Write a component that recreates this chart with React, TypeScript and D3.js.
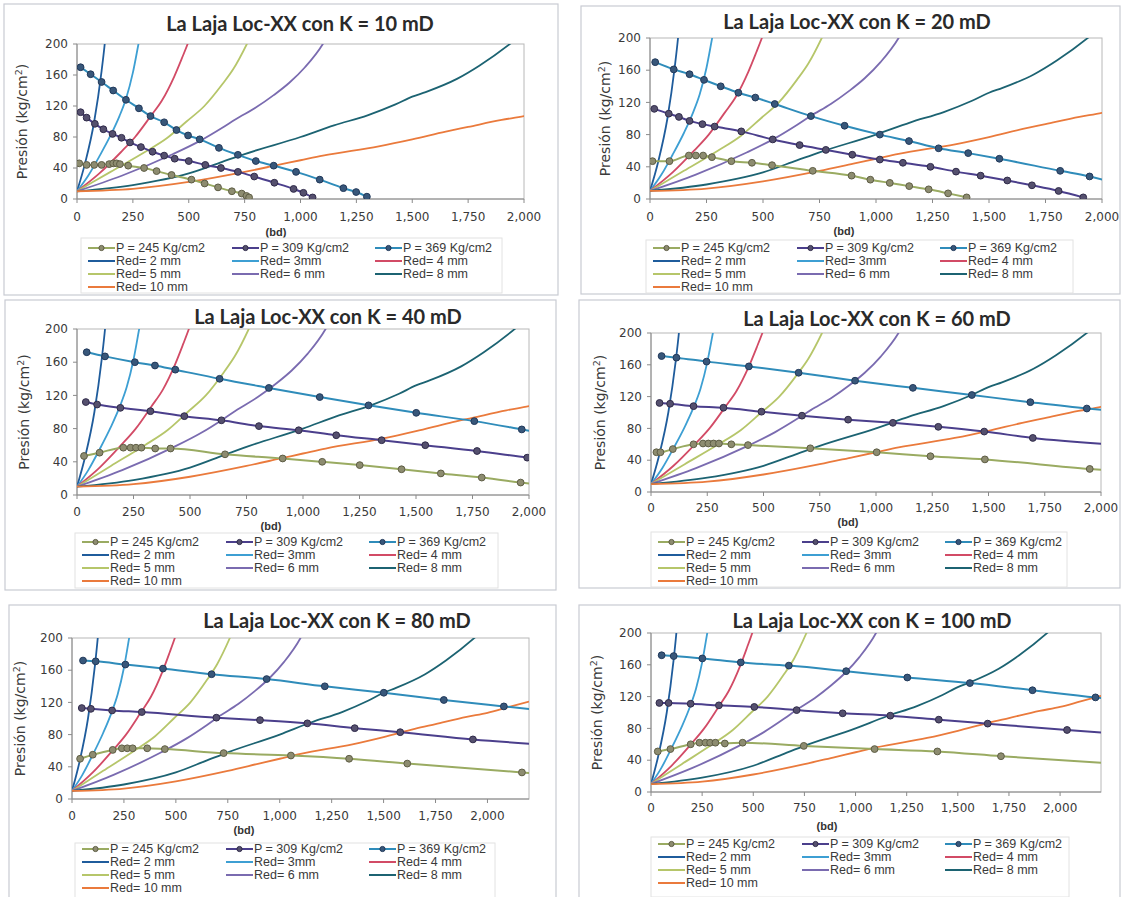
import React from "react";
import * as d3 from "d3";

type Pt = [number, number];

// ---- data ----
const panelK = [10, 20, 40, 60, 80, 100];
const xMaxByPanel = [2000, 2000, 2000, 2000, 2200, 2200];
const xTicks = [0, 250, 500, 750, 1000, 1250, 1500, 1750, 2000];
const yTicks = [0, 40, 80, 120, 160, 200];

const iprLabels = ["P = 245 Kg/cm2", "P = 309 Kg/cm2", "P = 369 Kg/cm2"];
const chokeLabels = ["Red= 2 mm", "Red= 3mm", "Red= 4 mm", "Red= 5 mm", "Red= 6 mm", "Red= 8 mm", "Red= 10 mm"];

// choke performance curves (same in every panel)
const red2: Pt[] = [[0, 10], [36, 46], [77, 100], [110, 165], [124, 200], [128, 212]];
const red3: Pt[] = [[0, 10], [50, 30], [100, 55], [150, 82], [190, 107], [220, 130], [250, 163], [275, 200], [285, 215]];
const red4: Pt[] = [[0, 10], [100, 33], [195, 60], [260, 80], [330, 107], [380, 127], [435, 158], [470, 182], [495, 200], [510, 212]];
const red5: Pt[] = [[0, 10], [150, 35], [300, 60], [400, 78], [490, 100], [570, 120], [650, 148], [700, 168], [760, 200], [780, 212]];
const red6: Pt[] = [[0, 10], [200, 30], [430, 58], [550, 75], [650, 92], [710, 103], [800, 118], [880, 134], [950, 150], [1020, 170], [1100, 200], [1120, 210]];
const red8: Pt[] = [[0, 10], [250, 18], [500, 33], [650, 48], [750, 58], [1000, 80], [1150, 95], [1300, 108], [1425, 122], [1500, 132], [1560, 138], [1700, 155], [1800, 172], [1950, 203], [1980, 210]];
const red10: Pt[] = [[0, 10], [250, 13], [500, 22], [750, 35], [900, 44], [1000, 50], [1100, 56], [1350, 68], [1500, 77], [1650, 87], [1750, 93], [1900, 102], [2000, 107], [2100, 114], [2200, 121]];

// inflow curves per permeability
const ipr245_k10: Pt[] = [[10, 46], [43, 44], [77, 44], [110, 44], [144, 45], [162, 46], [177, 46], [192, 45], [229, 43], [300, 40], [356, 36], [423, 31], [512, 25], [571, 20], [631, 15], [693, 10], [737, 7], [758, 4], [770, 2]];
const ipr309_k10: Pt[] = [[16, 112], [43, 105], [80, 97], [118, 90], [159, 84], [199, 79], [237, 73], [286, 67], [338, 61], [390, 56], [437, 52], [500, 49], [574, 44], [644, 40], [720, 35], [793, 29], [883, 21], [969, 13], [1013, 8], [1054, 2]];
const ipr369_k10: Pt[] = [[16, 170], [61, 161], [110, 151], [162, 140], [219, 128], [277, 117], [329, 107], [390, 99], [445, 89], [497, 82], [549, 77], [635, 66], [720, 57], [800, 49], [880, 43], [980, 35], [1086, 25], [1192, 14], [1249, 9], [1297, 3]];

const ipr245_k20: Pt[] = [[11, 47], [86, 47], [172, 54], [203, 54], [235, 54], [274, 52], [360, 47], [451, 45], [540, 42], [720, 35], [892, 29], [975, 24], [1061, 20], [1147, 16], [1233, 12], [1319, 7], [1401, 2]];
const ipr309_k20: Pt[] = [[19, 112], [83, 106], [128, 102], [175, 97], [232, 93], [286, 90], [404, 84], [543, 74], [662, 67], [778, 61], [895, 55], [1017, 49], [1119, 45], [1241, 40], [1354, 34], [1463, 29], [1581, 23], [1690, 17], [1808, 10], [1917, 2]];
const ipr369_k20: Pt[] = [[23, 170], [105, 161], [175, 155], [239, 148], [313, 140], [391, 132], [466, 126], [552, 118], [712, 103], [861, 91], [1017, 80], [1146, 72], [1277, 63], [1408, 57], [1546, 50], [1815, 35], [1945, 28], [2060, 20]];

const ipr245_k40: Pt[] = [[31, 47], [100, 51], [205, 57], [237, 57], [261, 57], [285, 57], [346, 56], [414, 56], [655, 49], [910, 44], [1085, 40], [1251, 36], [1436, 31], [1610, 26], [1791, 21], [1963, 15], [2050, 12]];
const ipr309_k40: Pt[] = [[39, 112], [89, 109], [192, 105], [325, 101], [475, 95], [639, 90], [805, 83], [981, 78], [1147, 72], [1348, 66], [1541, 60], [1770, 53], [1992, 45], [2050, 43]];
const ipr369_k40: Pt[] = [[43, 172], [124, 167], [256, 160], [345, 156], [435, 151], [631, 140], [849, 129], [1074, 118], [1290, 108], [1501, 99], [1758, 89], [1968, 79], [2050, 75]];

const ipr245_k60: Pt[] = [[24, 50], [42, 50], [97, 54], [189, 60], [231, 61], [255, 61], [278, 61], [302, 61], [357, 60], [431, 59], [708, 55], [1003, 50], [1242, 45], [1484, 41], [1950, 29], [2100, 26]];
const ipr309_k60: Pt[] = [[38, 112], [85, 111], [189, 108], [322, 106], [491, 101], [671, 96], [876, 91], [1075, 87], [1277, 82], [1481, 76], [1697, 68], [2100, 59]];
const ipr369_k60: Pt[] = [[47, 171], [113, 169], [247, 164], [435, 158], [656, 150], [907, 140], [1164, 131], [1426, 122], [1686, 113], [1937, 105], [2050, 102]];

const ipr245_k80: Pt[] = [[39, 50], [100, 55], [196, 61], [240, 63], [266, 63], [292, 63], [362, 63], [447, 62], [730, 57], [1054, 54], [1334, 50], [1614, 44], [2166, 33], [2300, 30]];
const ipr309_k80: Pt[] = [[47, 113], [91, 112], [193, 110], [336, 108], [695, 101], [905, 98], [1133, 94], [1361, 88], [1580, 83], [1930, 74], [2300, 67]];
const ipr369_k80: Pt[] = [[53, 172], [114, 171], [257, 167], [438, 162], [672, 155], [937, 149], [1217, 140], [1501, 132], [1790, 123], [2079, 115], [2300, 109]];

const ipr245_k100: Pt[] = [[33, 51], [95, 54], [194, 60], [237, 62], [266, 62], [289, 62], [315, 62], [361, 61], [448, 62], [747, 58], [1093, 54], [1400, 51], [1711, 45], [2300, 35]];
const ipr309_k100: Pt[] = [[41, 112], [86, 112], [194, 111], [332, 109], [505, 107], [712, 103], [937, 99], [1170, 96], [1407, 91], [1646, 86], [2034, 78], [2300, 73]];
const ipr369_k100: Pt[] = [[52, 172], [111, 171], [251, 168], [439, 163], [674, 159], [954, 152], [1253, 144], [1559, 137], [1865, 128], [2173, 119], [2300, 116]];

const chokeCurves = [red2, red3, red4, red5, red6, red8, red10];
const ipr245 = [ipr245_k10, ipr245_k20, ipr245_k40, ipr245_k60, ipr245_k80, ipr245_k100];
const ipr309 = [ipr309_k10, ipr309_k20, ipr309_k40, ipr309_k60, ipr309_k80, ipr309_k100];
const ipr369 = [ipr369_k10, ipr369_k20, ipr369_k40, ipr369_k60, ipr369_k80, ipr369_k100];

// ---- styles ----
const chokeColors = ["#1f5c9c", "#3d9fd3", "#d24b66", "#b6c66a", "#7a6bb0", "#1c6372", "#ea7a3c"];
const iprColors = ["#9aab62", "#4b3f8c", "#2f8cba"];
const markerFill = ["#8d8c70", "#55506e", "#38577a"];
const markerStroke = ["#5e5d45", "#302b4a", "#22395a"];

// ---- layout per panel ----
const layouts = [
  { box: [4, 4, 554, 291], plot: [77, 44, 524, 199], title: [300, 31], legend: [81, 238, 421, 55], row0: 248, bd: [276, 232], tickY: 217, yTitleX: 22 },
  { box: [581, 6, 539, 288], plot: [650, 38, 1102, 199], title: [857, 29], legend: [646, 240, 427, 53], row0: 248, bd: [844, 231], tickY: 217, yTitleX: 605 },
  { box: [5, 300, 551, 290], plot: [77, 329, 529, 495], title: [328, 324], legend: [75, 533, 423, 55], row0: 542, bd: [271, 526], tickY: 512, yTitleX: 24 },
  { box: [579, 300, 541, 288], plot: [651, 333, 1101, 492], title: [877, 326], legend: [651, 532, 416, 55], row0: 542, bd: [848, 522], tickY: 508, yTitleX: 600 },
  { box: [9, 605, 547, 300], plot: [72, 638, 529, 799], title: [337, 628], legend: [75, 843, 420, 60], row0: 849, bd: [244, 830], tickY: 816, yTitleX: 20 },
  { box: [579, 605, 541, 300], plot: [651, 633, 1101, 792], title: [872, 628], legend: [651, 837, 418, 60], row0: 844, bd: [827, 826], tickY: 808, yTitleX: 597 },
];

const legendColX = [7, 151, 294];
const fmt = d3.format(",");

function Panel({ i }: { i: number }) {
  const L = layouts[i];
  const [pl, pt, pr, pb] = L.plot;
  const x = d3.scaleLinear().domain([0, xMaxByPanel[i]]).range([pl, pr]);
  const y = d3.scaleLinear().domain([0, 200]).range([pb, pt]);
  const line = d3.line<Pt>().x(d => x(d[0])).y(d => y(d[1])).curve(d3.curveMonotoneX);
  const clipId = `clip${i}`;
  const ipr = [ipr245[i], ipr309[i], ipr369[i]];

  const legendItems = [
    ...iprLabels.map((t, k) => ({ t, color: iprColors[k], marker: k })),
    ...chokeLabels.map((t, k) => ({ t, color: chokeColors[k], marker: -1 })),
  ];

  return (
    <g>
      <rect x={L.box[0]} y={L.box[1]} width={L.box[2]} height={L.box[3]} fill="#fff" stroke="#c9cbd3" strokeWidth={1.2} />
      <text x={L.title[0]} y={L.title[1]} textAnchor="middle" fontFamily="Lato, 'Open Sans', sans-serif" fontWeight="bold" fontSize={20} fill="#2a2a2a">
        {`La Laja Loc-XX con K = ${panelK[i]} mD`}
      </text>
      <defs>
        <clipPath id={clipId}>
          <rect x={pl} y={pt} width={pr - pl} height={pb - pt} />
        </clipPath>
      </defs>
      <rect x={pl} y={pt} width={pr - pl} height={pb - pt} fill="none" stroke="#b8b8b8" strokeWidth={1} />
      <line x1={pl} x2={pl} y1={pt} y2={pb} stroke="#8a8a8a" />
      <line x1={pl} x2={pr} y1={pb} y2={pb} stroke="#8a8a8a" />
      {yTicks.map(v => (
        <g key={`y${v}`}>
          <line x1={pl - 4} x2={pl} y1={y(v)} y2={y(v)} stroke="#8a8a8a" />
          <text x={pl - 9} y={y(v)} dy="0.35em" textAnchor="end" fontFamily="'DejaVu Sans', sans-serif" fontSize={12} fill="#3a3a3a">{v}</text>
        </g>
      ))}
      {xTicks.map(v => (
        <g key={`x${v}`}>
          <line x1={x(v)} x2={x(v)} y1={pb} y2={pb + 4} stroke="#8a8a8a" />
          <text x={x(v)} y={L.tickY} dy="0.35em" textAnchor="middle" fontFamily="'DejaVu Sans', sans-serif" fontSize={12} fill="#3a3a3a">{fmt(v)}</text>
        </g>
      ))}
      <text x={L.bd[0]} y={L.bd[1]} dy="0.35em" textAnchor="middle" fontFamily="'Liberation Sans', Arial, sans-serif" fontWeight="bold" fontSize={11} fill="#333">(bd)</text>
      <text transform={`translate(${L.yTitleX},${(pt + pb) / 2}) rotate(-90)`} textAnchor="middle" dy="0.35em" fontFamily="'DejaVu Sans', sans-serif" fontSize={14} fill="#3a3a3a">
        Presión (kg/cm<tspan dy={-5} fontSize={9.5}>2</tspan><tspan dy={5}>)</tspan>
      </text>
      <g clipPath={`url(#${clipId})`}>
        {chokeCurves.map((c, k) => (
          <path key={`c${k}`} d={line(c) || ""} fill="none" stroke={chokeColors[k]} strokeWidth={1.8} />
        ))}
        {ipr.map((c, k) => (
          <g key={`p${k}`}>
            <path d={line(c) || ""} fill="none" stroke={iprColors[k]} strokeWidth={2} />
            {c.map((d, j) => (
              <circle key={j} cx={x(d[0])} cy={y(d[1])} r={3.4} fill={markerFill[k]} stroke={markerStroke[k]} strokeWidth={1} />
            ))}
          </g>
        ))}
      </g>
      <rect x={L.legend[0]} y={L.legend[1]} width={L.legend[2]} height={L.legend[3]} fill="none" stroke="#e2e2e2" />
      {legendItems.map((it, k) => {
        const lx = L.legend[0] + legendColX[k % 3];
        const ly = L.row0 + Math.floor(k / 3) * 13;
        return (
          <g key={`l${k}`}>
            <line x1={lx} x2={lx + 27} y1={ly} y2={ly} stroke={it.color} strokeWidth={2} />
            {it.marker >= 0 && (
              <circle cx={lx + 13.5} cy={ly} r={2.6} fill={markerFill[it.marker]} stroke={markerStroke[it.marker]} />
            )}
            <text x={lx + 28} y={ly} dy="0.35em" fontFamily="'Liberation Sans', Arial, sans-serif" fontSize={12.5} fill="#3a3a3a">{it.t}</text>
          </g>
        );
      })}
    </g>
  );
}

export default function App() {
  return (
    <svg width={1125} height={897} style={{ position: "absolute", left: 0, top: 0, background: "#fff" }}>
      {panelK.map((_, i) => <Panel key={i} i={i} />)}
    </svg>
  );
}
